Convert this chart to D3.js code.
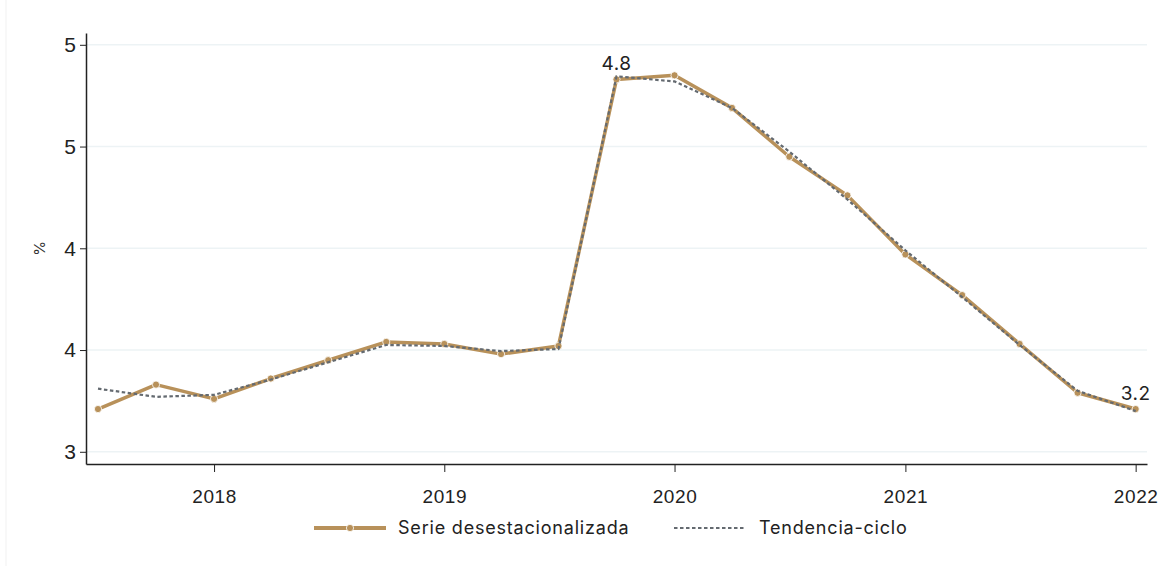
<!DOCTYPE html>
<html>
<head>
<meta charset="utf-8">
<script src="https://cdn.jsdelivr.net/npm/d3@7"></script>
<style>
  body { margin: 0; background: #fff; }
  svg { font-family: Inter, "Noto Sans", sans-serif; }
  .grid line { stroke: #edf3f5; stroke-width: 1.5; }
  .axis path, .axis line { stroke: #222; }
</style>
</head>
<body>
<div id="chart"></div>
<script>
// quarters (first day of each quarter)
var periods = ["2017-07-01", "2017-10-01", "2018-01-01", "2018-04-01", "2018-07-01", "2018-10-01",
               "2019-01-01", "2019-04-01", "2019-07-01", "2019-10-01", "2020-01-01", "2020-04-01",
               "2020-07-01", "2020-10-01", "2021-01-01", "2021-04-01", "2021-07-01", "2021-10-01",
               "2022-01-01"];
var serie = [3.21, 3.33, 3.26, 3.36, 3.45, 3.54, 3.53, 3.48, 3.52, 4.83, 4.85, 4.69,
             4.45, 4.26, 3.97, 3.77, 3.53, 3.29, 3.21];
var tendencia = [3.31, 3.27, 3.28, 3.355, 3.44, 3.525, 3.52, 3.495, 3.505, 4.845, 4.82, 4.69,
                 4.475, 4.24, 3.99, 3.76, 3.525, 3.30, 3.20];
var yTicks = [3, 3.5, 4, 4.5, 5];
var yearTicks = ["2018", "2019", "2020", "2021", "2022"];
var labelIdx = [9, 18];   // points carrying a data label

var width = 1172, height = 566;
var margin = {top: 33, right: 25, bottom: 102, left: 86};

var parse = d3.timeParse("%Y-%m-%d");
var dates = periods.map(parse);

var svg = d3.select("#chart").append("svg")
    .attr("width", width)
    .attr("height", height);

// faint frame edge on the left
svg.append("line")
    .attr("x1", 6).attr("x2", 6).attr("y1", 0).attr("y2", height)
    .attr("stroke", "#f1f1f1");

var x = d3.scaleTime()
    .domain([d3.timeDay.offset(dates[0], -19), d3.timeDay.offset(dates[dates.length - 1], 18)])
    .range([margin.left, width - margin.right]);

var y = d3.scaleLinear()
    .domain([2.94, 5.058])
    .range([height - margin.bottom, margin.top]);

// grid
svg.append("g").attr("class", "grid")
    .selectAll("line")
    .data(yTicks)
    .enter().append("line")
    .attr("x1", margin.left + 1)
    .attr("x2", width - margin.right)
    .attr("y1", function(d) { return y(d); })
    .attr("y2", function(d) { return y(d); });

// y axis
var yAxis = svg.append("g")
    .attr("class", "axis")
    .attr("transform", "translate(" + margin.left + ",0)")
    .call(d3.axisLeft(y).tickValues(yTicks).tickSize(6).tickSizeOuter(0)
        .tickFormat(function(d) { return d3.format(".0f")(d + 1e-9); }));
yAxis.select(".domain").attr("stroke-width", 1.5);
yAxis.selectAll("text")
    .attr("font-size", 21)
    .attr("fill", "#222")
    .attr("x", -10);

svg.append("text")
    .attr("transform", "translate(45," + y(4) + ") rotate(-90)")
    .attr("text-anchor", "middle")
    .attr("font-size", 15)
    .attr("fill", "#333")
    .text("%");

// x axis
var xAxis = svg.append("g")
    .attr("class", "axis")
    .attr("transform", "translate(0," + (height - margin.bottom) + ")")
    .call(d3.axisBottom(x)
        .tickValues(yearTicks.map(function(t) { return parse(t + "-01-01"); }))
        .tickFormat(d3.timeFormat("%Y"))
        .tickSize(8).tickSizeOuter(0));
xAxis.select(".domain").attr("stroke-width", 1.5);
xAxis.selectAll("text")
    .attr("font-size", 19)
    .attr("letter-spacing", 0.6)
    .attr("fill", "#222")
    .attr("dy", "1.45em");

// series
var lineSerie = d3.line()
    .x(function(d, i) { return x(dates[i]); })
    .y(function(d) { return y(d); });

var gold = "#b8915a";
var grey = "#646a70";

svg.append("path")
    .datum(serie)
    .attr("fill", "none")
    .attr("stroke", gold)
    .attr("stroke-width", 3.5)
    .attr("stroke-linejoin", "round")
    .attr("d", lineSerie);

svg.selectAll(".pt")
    .data(serie)
    .enter().append("circle")
    .attr("class", "pt")
    .attr("cx", function(d, i) { return x(dates[i]); })
    .attr("cy", function(d) { return y(d); })
    .attr("r", 3.6)
    .attr("fill", gold)
    .attr("stroke", "#fff")
    .attr("stroke-width", 0.8);

svg.append("path")
    .datum(tendencia)
    .attr("fill", "none")
    .attr("stroke", grey)
    .attr("stroke-width", 2.2)
    .attr("stroke-dasharray", "3.5,2.5")
    .attr("d", lineSerie);

// data labels
svg.selectAll(".lbl")
    .data(labelIdx)
    .enter().append("text")
    .attr("class", "lbl")
    .attr("x", function(i) { return x(dates[i]); })
    .attr("y", function(i) { return y(serie[i]) - 9; })
    .attr("text-anchor", "middle")
    .attr("font-size", 19)
    .attr("letter-spacing", 0.5)
    .attr("fill", "#222")
    .text(function(i) { return d3.format(".1f")(serie[i]); });

// legend
var leg = svg.append("g").attr("transform", "translate(0,528)");
leg.append("line")
    .attr("x1", 314).attr("x2", 386).attr("y1", 0).attr("y2", 0)
    .attr("stroke", gold).attr("stroke-width", 4);
leg.append("circle")
    .attr("cx", 350).attr("cy", 0).attr("r", 3.6)
    .attr("fill", gold).attr("stroke", "#fff").attr("stroke-width", 0.8);
leg.append("text")
    .attr("x", 398).attr("y", 0).attr("dy", "0.35em")
    .attr("font-size", 18).attr("letter-spacing", 0.8).attr("fill", "#222")
    .text("Serie desestacionalizada");
leg.append("line")
    .attr("x1", 674).attr("x2", 746).attr("y1", 0).attr("y2", 0)
    .attr("stroke", grey).attr("stroke-width", 2.2)
    .attr("stroke-dasharray", "3.5,2.5");
leg.append("text")
    .attr("x", 759).attr("y", 0).attr("dy", "0.35em")
    .attr("font-size", 18).attr("letter-spacing", 0.8).attr("fill", "#222")
    .text("Tendencia-ciclo");
</script>
</body>
</html>
